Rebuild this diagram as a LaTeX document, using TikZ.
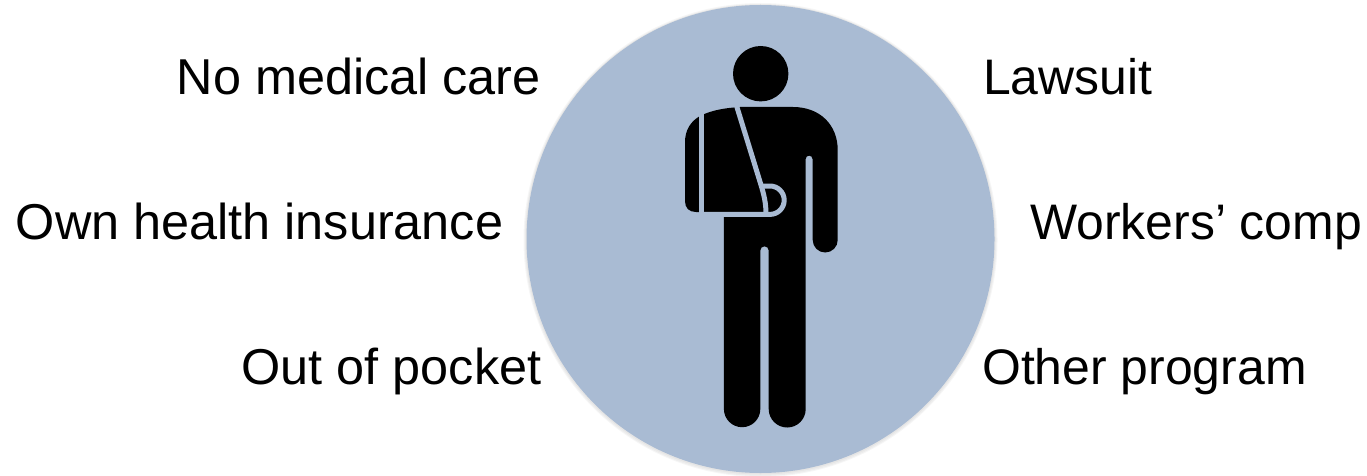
\documentclass[tikz,border=0pt]{standalone}
\usepackage{fontspec}
\setmainfont{Liberation Sans}
\definecolor{disc}{HTML}{A9BBD3}
\tikzset{
  lbl/.style={inner sep=0pt,text=black,font=\fontsize{50.4}{54}\selectfont},
  lblr/.style={inner sep=0pt,text=black,font=\fontsize{49.9}{54}\selectfont},
  halo/.style={fill=black,fill opacity=0.035},
  slingline/.style={draw=disc,line width=5pt,line cap=butt,line join=round}
}
\begin{document}
\begin{tikzpicture}[x=1pt,y=-1pt]
\useasboundingbox (0,0) rectangle (1367,476);
\fill[halo] (760.5,240) circle (237);
\fill[halo] (760.5,240) circle (236);
\fill[halo] (760.5,239.5) circle (235);
\fill[disc] (760.5,239) circle (234);
\fill[black] (760.7,73.7) circle (27.7);
% silhouette
\fill[black] (740,107) -- (793,107)
  .. controls (820,107) and (837.7,125) .. (837.7,150)
  -- (837.7,240) arc[start angle=0,end angle=180,radius=12.5]
  -- (812.5,159) arc[start angle=0,end angle=-180,radius=3.4]
  -- (805.7,409) arc[start angle=0,end angle=180,radius=18.5]
  -- (768.7,250.5) arc[start angle=0,end angle=-180,radius=4.2]
  -- (760.3,409) arc[start angle=0,end angle=180,radius=18.2]
  -- (723.9,212) -- (696,212)
  .. controls (689,212) and (685,208) .. (685,201)
  -- (685,142)
  .. controls (685,130) and (691,121) .. (700,116)
  .. controls (712,110) and (725,108) .. (740,107) -- cycle;
% sling gaps
\draw[slingline] (701.7,105) -- (701.7,214);
\draw[slingline] (736,104) -- (761,185)
  .. controls (764,195) and (766,203) .. (766,214);
\draw[slingline] (700,214.4) -- (770,214.4)
  arc[start angle=90,end angle=-90,radius=14.2]
  -- (761,186);
% labels
\node[lbl,anchor=base east] (nomed) at (541,95) {No medical care};
\node[lblr,anchor=base west] (lawsuit) at (983,95) {Lawsuit};
\node[lbl,anchor=base east] (own) at (503.5,239) {Own health insurance};
\node[lblr,anchor=base west] (wc) at (1030,239) {Workers’ comp};
\node[lbl,anchor=base east] (oop) at (541.5,384) {Out of pocket};
\node[lblr,anchor=base west] (other) at (982,384) {Other program};
\end{tikzpicture}
\end{document}
